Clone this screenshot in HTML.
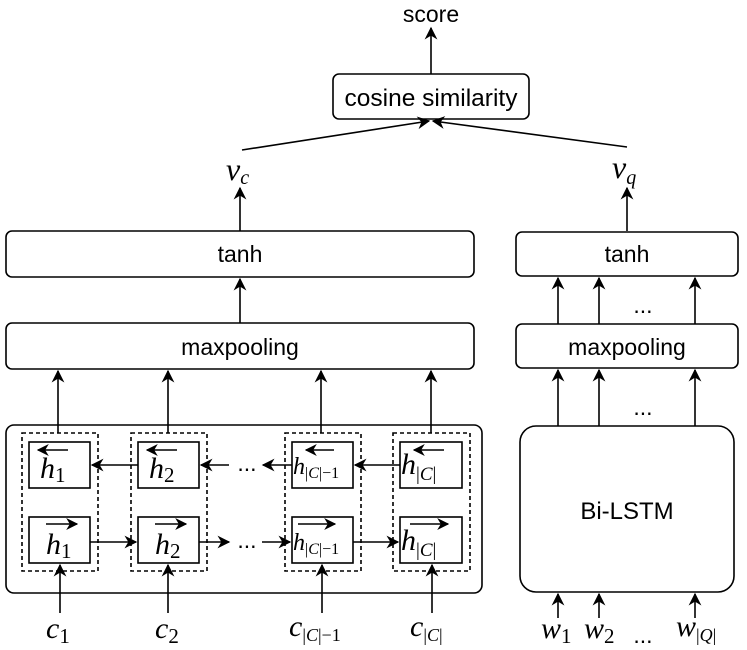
<!DOCTYPE html>
<html><head><meta charset="utf-8"><style>body{margin:0;background:#fff}svg{display:block}</style></head><body>
<svg width="747" height="650" viewBox="0 0 747 650" xmlns="http://www.w3.org/2000/svg">
<defs><marker id="a" viewBox="0 0 10 10" refX="9" refY="5" markerWidth="8" markerHeight="8" orient="auto"><path d="M0,0 L10,5 L0,10 L3,5 z" fill="#000"/></marker></defs>
<g font-family="Liberation Sans, sans-serif" fill="none" stroke="#000" stroke-width="1.6">
<line x1="431" y1="74" x2="431" y2="28" marker-end="url(#a)"/>
<rect x="333" y="74" width="196" height="45" rx="6"/>
<line x1="242" y1="150" x2="429" y2="121" marker-end="url(#a)"/>
<line x1="627" y1="147" x2="433" y2="121" marker-end="url(#a)"/>
<line x1="240" y1="231" x2="240" y2="188" marker-end="url(#a)"/>
<line x1="627" y1="231" x2="627" y2="188" marker-end="url(#a)"/>
<rect x="6" y="231" width="468" height="46" rx="6"/>
<rect x="6" y="323" width="468" height="46" rx="6"/>
<line x1="240" y1="323" x2="240" y2="279" marker-end="url(#a)"/>
<rect x="516" y="232" width="222" height="44" rx="6"/>
<rect x="516" y="324" width="222" height="44" rx="6"/>
<line x1="558" y1="324" x2="558" y2="278" marker-end="url(#a)"/>
<line x1="599" y1="324" x2="599" y2="278" marker-end="url(#a)"/>
<line x1="695" y1="324" x2="695" y2="278" marker-end="url(#a)"/>
<rect x="520" y="426" width="214" height="166" rx="16"/>
<line x1="558" y1="426" x2="558" y2="370" marker-end="url(#a)"/>
<line x1="599" y1="426" x2="599" y2="370" marker-end="url(#a)"/>
<line x1="695" y1="426" x2="695" y2="370" marker-end="url(#a)"/>
<line x1="558" y1="618" x2="558" y2="594" marker-end="url(#a)"/>
<line x1="599" y1="618" x2="599" y2="594" marker-end="url(#a)"/>
<line x1="695" y1="618" x2="695" y2="594" marker-end="url(#a)"/>
<rect x="6" y="425" width="476" height="168" rx="8"/>
<g stroke-dasharray="4,3"><rect x="22" y="433" width="76" height="138"/><rect x="131" y="433" width="76" height="138"/><rect x="285" y="433" width="76" height="138"/><rect x="393" y="433" width="77" height="138"/></g>
<line x1="58" y1="433" x2="58" y2="371" marker-end="url(#a)"/>
<line x1="168" y1="433" x2="168" y2="371" marker-end="url(#a)"/>
<line x1="321" y1="433" x2="321" y2="371" marker-end="url(#a)"/>
<line x1="431" y1="433" x2="431" y2="371" marker-end="url(#a)"/>
<g><rect x="29" y="442" width="61" height="46"/><rect x="138" y="442" width="61" height="46"/><rect x="292" y="442" width="61" height="46"/><rect x="400" y="442" width="62" height="46"/>
<rect x="29" y="517" width="61" height="46"/><rect x="138" y="517" width="61" height="46"/><rect x="292" y="517" width="61" height="46"/><rect x="400" y="517" width="62" height="46"/></g>
<line x1="138" y1="465" x2="92" y2="465" marker-end="url(#a)"/>
<line x1="229" y1="465" x2="201" y2="465" marker-end="url(#a)"/>
<line x1="292" y1="465" x2="263" y2="465" marker-end="url(#a)"/>
<line x1="400" y1="465" x2="355" y2="465" marker-end="url(#a)"/>
<line x1="90" y1="542" x2="136" y2="542" marker-end="url(#a)"/>
<line x1="199" y1="542" x2="229" y2="542" marker-end="url(#a)"/>
<line x1="262" y1="542" x2="290" y2="542" marker-end="url(#a)"/>
<line x1="353" y1="542" x2="398" y2="542" marker-end="url(#a)"/>
<line x1="60" y1="613" x2="60" y2="565" marker-end="url(#a)"/>
<line x1="168" y1="613" x2="168" y2="565" marker-end="url(#a)"/>
<line x1="322" y1="613" x2="322" y2="565" marker-end="url(#a)"/>
<line x1="432" y1="613" x2="432" y2="565" marker-end="url(#a)"/>
<g stroke-width="1.5">
<line x1="68" y1="450" x2="38" y2="450" marker-end="url(#a)"/><line x1="177" y1="450" x2="147" y2="450" marker-end="url(#a)"/><line x1="334" y1="450" x2="306" y2="450" marker-end="url(#a)"/><line x1="444" y1="450" x2="414" y2="450" marker-end="url(#a)"/>
<line x1="46" y1="524" x2="77" y2="524" marker-end="url(#a)"/><line x1="155" y1="524" x2="186" y2="524" marker-end="url(#a)"/><line x1="298" y1="524" x2="335" y2="524" marker-end="url(#a)"/><line x1="410" y1="524" x2="448" y2="524" marker-end="url(#a)"/>
</g>
</g>
<g font-family="Liberation Sans, sans-serif" font-size="23" text-anchor="middle" fill="#000">
<text x="431" y="22">score</text>
<text x="431" y="106" font-size="24.5">cosine similarity</text>
<text x="240" y="262">tanh</text>
<text x="240" y="355">maxpooling</text>
<text x="627" y="262">tanh</text>
<text x="627" y="355">maxpooling</text>
<text x="627" y="519" font-size="24">Bi-LSTM</text>
<text x="643" y="313">...</text>
<text x="643" y="415">...</text>
<text x="247" y="471">...</text>
<text x="247" y="548">...</text>
<text x="643" y="643">...</text>
</g>
<g font-family="Liberation Serif, serif" fill="#000">
<text x="226" y="180" font-size="32" font-style="italic">v<tspan font-size="20" dy="4">c</tspan></text>
<text x="612" y="178" font-size="32" font-style="italic">v<tspan font-size="20" dy="6">q</tspan></text>
<g font-size="30">
<text x="40" y="478"><tspan font-style="italic">h</tspan><tspan font-size="21" dy="4">1</tspan></text>
<text x="149" y="478"><tspan font-style="italic">h</tspan><tspan font-size="21" dy="4">2</tspan></text>
<text x="401" y="474"><tspan font-style="italic">h</tspan><tspan font-size="19" dy="6">|<tspan font-style="italic">C</tspan>|</tspan></text>
<text x="46" y="554"><tspan font-style="italic">h</tspan><tspan font-size="21" dy="4">1</tspan></text>
<text x="155" y="554"><tspan font-style="italic">h</tspan><tspan font-size="21" dy="4">2</tspan></text>
<text x="401" y="550"><tspan font-style="italic">h</tspan><tspan font-size="19" dy="6">|<tspan font-style="italic">C</tspan>|</tspan></text>
</g>
<g font-size="24">
<text x="293" y="474"><tspan font-style="italic">h</tspan><tspan font-size="16" dy="4">|<tspan font-style="italic">C</tspan>|−1</tspan></text>
<text x="293" y="550"><tspan font-style="italic">h</tspan><tspan font-size="16" dy="4">|<tspan font-style="italic">C</tspan>|−1</tspan></text>
</g>
<g font-size="30">
<text x="46" y="638"><tspan font-style="italic">c</tspan><tspan font-size="21" dy="5">1</tspan></text>
<text x="155" y="638"><tspan font-style="italic">c</tspan><tspan font-size="21" dy="5">2</tspan></text>
<text x="289" y="636"><tspan font-style="italic">c</tspan><tspan font-size="18" dy="5">|<tspan font-style="italic">C</tspan>|−1</tspan></text>
<text x="410" y="636"><tspan font-style="italic">c</tspan><tspan font-size="18" dy="5">|<tspan font-style="italic">C</tspan>|</tspan></text>
<text x="541" y="638"><tspan font-style="italic">w</tspan><tspan font-size="21" dy="5">1</tspan></text>
<text x="584" y="638"><tspan font-style="italic">w</tspan><tspan font-size="21" dy="5">2</tspan></text>
<text x="676" y="636"><tspan font-style="italic">w</tspan><tspan font-size="18" dy="5">|<tspan font-style="italic">Q</tspan>|</tspan></text>
</g>
</g>
</svg>
</body></html>
